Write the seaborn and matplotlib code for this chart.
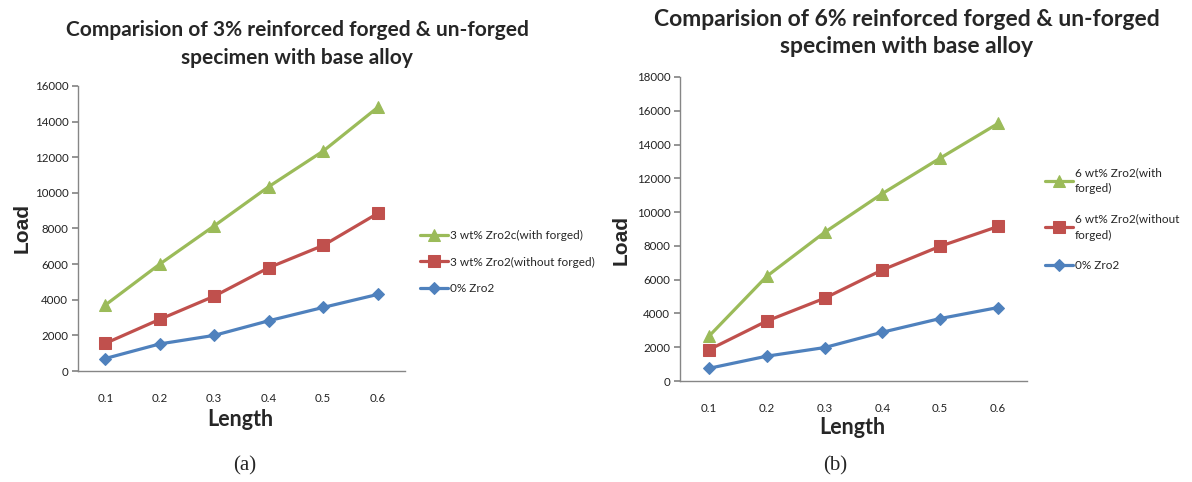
"""
Load vs length for forged / un-forged ZrO2 reinforced specimens
"""
import pandas as pd
import matplotlib
matplotlib.use("Agg")
import matplotlib.pyplot as plt
import seaborn as sns

# Data
lengths = ["0.1", "0.2", "0.3", "0.4", "0.5", "0.6"]

load_3_forged = [3700, 6000, 8150, 10350, 12350, 14800]
load_3_unforged = [1550, 2900, 4200, 5800, 7050, 8850]
load_base_a = [700, 1520, 2000, 2820, 3570, 4300]

load_6_forged = [2650, 6200, 8800, 11100, 13200, 15250]
load_6_unforged = [1850, 3550, 4900, 6580, 7980, 9150]
load_base_b = [750, 1470, 1980, 2890, 3700, 4350]

labels_a = ["3 wt% Zro2c(with forged)", "3 wt% Zro2(without forged)", "0% Zro2"]
labels_b = ["6 wt% Zro2(with\nforged)", "6 wt% Zro2(without\nforged)", "0% Zro2"]

titles = [
    "Comparision of 3% reinforced forged & un-forged\nspecimen with base alloy",
    "Comparision of 6% reinforced forged & un-forged\nspecimen with base alloy",
]

GREEN = "#9BBB59"
RED = "#C0504D"
BLUE = "#4F81BD"
SPINE = "#868686"

sns.set_theme(style="white")
plt.rcParams["font.family"] = ["Lato", "DejaVu Sans"]

W, H = 1192, 482
fig = plt.figure(figsize=(W / 100, H / 100), dpi=100)


def box(l, t, r, b):
    return [l / W, 1 - b / H, (r - l) / W, (b - t) / H]


def draw(ax, series, labels, ymax):
    styles = [("^", GREEN, 9), ("s", RED, 8), ("D", BLUE, 6)]
    handles = []
    for vals, lab, (mk, col, ms) in zip(series, labels, styles):
        df = pd.DataFrame({"Length": lengths, "Load": vals})
        sns.lineplot(data=df, x="Length", y="Load", ax=ax, color=col, marker=mk,
                     markersize=ms, markeredgecolor=col, linewidth=2.3, sort=False)
        handles.append(ax.lines[-1])
    ax.set_xlim(-0.5, 5.5)
    ax.set_ylim(0, ymax)
    ax.set_yticks(range(0, ymax + 1, 2000))
    for s in ["top", "right"]:
        ax.spines[s].set_visible(False)
    for s in ["left", "bottom"]:
        ax.spines[s].set_color(SPINE)
        ax.spines[s].set_linewidth(1.0)
    ax.tick_params(axis="y", left=True, length=4, color=SPINE, labelsize=8.3, pad=3,
                   labelcolor="#222222")
    ax.tick_params(axis="x", bottom=False, labelsize=8.3, pad=10, labelcolor="#222222")
    ax.set_xlabel("")
    ax.set_ylabel("")
    return handles


ax1 = fig.add_axes(box(78, 86, 405, 371))
h1 = draw(ax1, [load_3_forged, load_3_unforged, load_base_a], labels_a, 16000)

ax2 = fig.add_axes(box(680, 77, 1027, 381))
h2 = draw(ax2, [load_6_forged, load_6_unforged, load_base_b], labels_b, 18000)

# titles
fig.text(297 / W, 1 - 44 / H, titles[0], ha="center", va="center", fontsize=15,
         fontweight="bold", linespacing=1.5)
fig.text(907 / W, 1 - 33 / H, titles[1], ha="center", va="center", fontsize=16.5,
         fontweight="bold", linespacing=1.3)

# axis labels
fig.text(22 / W, 1 - 228 / H, "Load", rotation=90, ha="center", va="center",
         fontsize=15, fontweight="bold", family=["Liberation Sans", "DejaVu Sans"])
fig.text(621 / W, 1 - 240 / H, "Load", rotation=90, ha="center", va="center",
         fontsize=15, fontweight="bold", family=["Liberation Sans", "DejaVu Sans"])
fig.text(240 / W, 1 - 420 / H, "Length", ha="center", va="center", fontsize=15.5,
         fontweight="bold")
fig.text(852 / W, 1 - 427 / H, "Length", ha="center", va="center", fontsize=15.5,
         fontweight="bold")

# legends
fig.legend(h1, labels_a, loc="center left", bbox_to_anchor=(420 / W, 1 - 262 / H),
           frameon=False, fontsize=8.5, handlelength=2.4, handletextpad=0.15,
           labelspacing=1.3, borderpad=0, borderaxespad=0)
leg2 = fig.legend(h2, labels_b, loc="upper left", bbox_to_anchor=(1045 / W, 1 - 167 / H),
                  frameon=False, fontsize=8.5, handlelength=2.4, handletextpad=0.15,
                  labelspacing=1.6, borderpad=0, borderaxespad=0)
for t in leg2.get_texts():
    t.set_linespacing(1.6)

# sub captions
fig.text(245 / W, 1 - 466 / H, "(a)", ha="center", va="center", fontsize=15,
         family=["Liberation Serif", "DejaVu Serif"])
fig.text(835 / W, 1 - 466 / H, "(b)", ha="center", va="center", fontsize=15,
         family=["Liberation Serif", "DejaVu Serif"])

fig.savefig("out.png", dpi=100, facecolor="white")
